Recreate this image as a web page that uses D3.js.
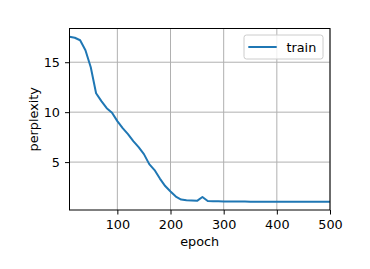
<!DOCTYPE html>
<html>
<head>
<meta charset="utf-8">
<script src="https://cdn.jsdelivr.net/npm/d3@7"></script>
<style>
  body { margin: 0; background: #fff; }
  svg { display: block; }
  text { font-family: "DejaVu Sans", sans-serif; }
</style>
</head>
<body>
<div id="chart"></div>
<script>
// epochs, one point every 10 epochs
const epochs = d3.range(10, 501, 10);
// training perplexity
const perplexity = [
  17.55, 17.45, 17.2, 16.2, 14.5, 11.9, 11.1, 10.4, 9.95, 9.1,
  8.4, 7.8, 7.1, 6.5, 5.8, 4.8, 4.2, 3.35, 2.6, 2.05,
  1.55, 1.25, 1.18, 1.15, 1.12, 1.5, 1.1, 1.08, 1.07, 1.06,
  1.06, 1.05, 1.05, 1.05, 1.04, 1.04, 1.04, 1.04, 1.04, 1.03,
  1.03, 1.03, 1.03, 1.03, 1.03, 1.03, 1.03, 1.03, 1.03, 1.03
];
const xTicks = [100, 200, 300, 400, 500];
const yTicks = [5, 10, 15];
const seriesName = "train";

const width = 370;
const height = 269;
const margin = {top: 28.5, right: 40, bottom: 59, left: 69.5};
const innerWidth = width - margin.left - margin.right;
const innerHeight = height - margin.top - margin.bottom;
const fontSize = 12.8;
const blue = "#1f77b4";

const data = epochs.map((e, i) => ({epoch: e, value: perplexity[i]}));

const svg = d3.select("#chart")
  .append("svg")
    .attr("width", width)
    .attr("height", height)
    .attr("viewBox", `0 0 ${width} ${height}`);

const inner = svg.append("g")
  .attr("transform", `translate(${margin.left}, ${margin.top})`);

// matplotlib style 5% padding on y
const yMin = d3.min(perplexity), yMax = d3.max(perplexity);
const pad = (yMax - yMin) * 0.05;

const xScale = d3.scaleLinear()
  .domain([10, 500])
  .range([0, innerWidth]);

const yScale = d3.scaleLinear()
  .domain([yMin - pad, yMax + pad])
  .range([innerHeight, 0]);

// grid
inner.append("g")
  .selectAll("line")
  .data(xTicks)
  .join("line")
    .attr("x1", d => xScale(d))
    .attr("x2", d => xScale(d))
    .attr("y1", 0)
    .attr("y2", innerHeight)
    .attr("stroke", "#b0b0b0")
    .attr("stroke-width", 1);

inner.append("g")
  .selectAll("line")
  .data(yTicks)
  .join("line")
    .attr("x1", 0)
    .attr("x2", innerWidth)
    .attr("y1", d => yScale(d))
    .attr("y2", d => yScale(d))
    .attr("stroke", "#b0b0b0")
    .attr("stroke-width", 1);

// line
const line = d3.line()
  .x(d => xScale(d.epoch))
  .y(d => yScale(d.value));

inner.append("path")
  .datum(data)
    .attr("d", line)
    .attr("fill", "none")
    .attr("stroke", blue)
    .attr("stroke-width", 2)
    .attr("stroke-linejoin", "round");

// axes
const bottomAxis = d3.axisBottom(xScale)
  .tickValues(xTicks)
  .tickSize(4.5)
  .tickPadding(5.9)
  .tickSizeOuter(0);
const xAxis = inner.append("g")
  .attr("transform", `translate(0, ${innerHeight})`)
  .call(bottomAxis);

const leftAxis = d3.axisLeft(yScale)
  .tickValues(yTicks)
  .tickSize(4.5)
  .tickPadding(5)
  .tickSizeOuter(0);
const yAxis = inner.append("g")
  .call(leftAxis);

[xAxis, yAxis].forEach(ax => {
  ax.attr("font-family", "DejaVu Sans").attr("font-size", fontSize);
  ax.select(".domain").remove();
  ax.selectAll(".tick line").attr("stroke", "#000").attr("stroke-width", 1);
  ax.selectAll(".tick text").attr("fill", "#000");
});

// frame
inner.append("rect")
  .attr("x", 0)
  .attr("y", 0)
  .attr("width", innerWidth)
  .attr("height", innerHeight)
  .attr("fill", "none")
  .attr("stroke", "#000")
  .attr("stroke-width", 1);

// axis labels
svg.append("text")
  .text("epoch")
  .attr("x", margin.left + innerWidth / 2)
  .attr("y", 246.3)
  .attr("text-anchor", "middle")
  .attr("font-size", fontSize);

svg.append("text")
  .text("perplexity")
  .attr("text-anchor", "middle")
  .attr("transform", `translate(37.5, ${margin.top + innerHeight / 2}) rotate(-90)`)
  .attr("font-size", fontSize);

// legend
const legend = inner.append("g")
  .attr("transform", `translate(${innerWidth - 86}, 6.5)`);
legend.append("rect")
  .attr("width", 79)
  .attr("height", 24)
  .attr("rx", 2.5)
  .attr("fill", "#fff")
  .attr("fill-opacity", 0.8)
  .attr("stroke", "#cccccc")
  .attr("stroke-width", 1);
legend.append("line")
  .attr("x1", 4.3)
  .attr("x2", 32.7)
  .attr("y1", 12)
  .attr("y2", 12)
  .attr("stroke", blue)
  .attr("stroke-width", 2);
legend.append("text")
  .text(seriesName)
  .attr("x", 42.5)
  .attr("y", 12)
  .attr("dy", "0.36em")
  .attr("font-size", fontSize);
</script>
</body>
</html>
